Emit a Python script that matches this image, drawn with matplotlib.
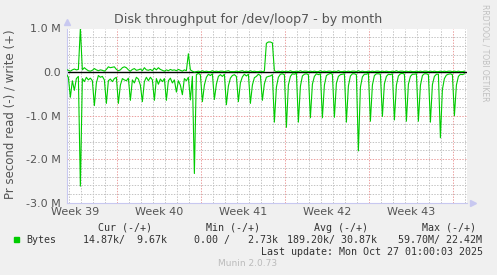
import matplotlib
matplotlib.use("Agg")
from matplotlib import pyplot as plt
import numpy as np

title = "Disk throughput for /dev/loop7 - by month"
y_label = "Pr second read (-) / write (+)"
week_labels = ["Week 39", "Week 40", "Week 41", "Week 42", "Week 43"]
y_tick_values = [1.0, 0.0, -1.0, -2.0, -3.0]
y_tick_labels = ["1.0 M", "0.0", "-1.0 M", "-2.0 M", "-3.0 M"]

# bytes per second in millions, six 4-hour samples per day; read is drawn negative
read_by_day = [
    [-0.05, -0.12, -0.58, -0.20, -0.42, -0.15],
    [-0.10, -2.62, -0.15, -0.22, -0.12, -0.18],
    [-0.14, -0.20, -0.77, -0.25, -0.08, -0.12],
    [-0.10, -0.18, -0.72, -0.20, -0.16, -0.22],
    [-0.15, -0.12, -0.72, -0.30, -0.15, -0.18],
    [-0.20, -0.14, -0.65, -0.18, -0.25, -0.12],
    [-0.16, -0.30, -0.68, -0.22, -0.12, -0.20],
    [-0.12, -0.18, -0.65, -0.15, -0.28, -0.16],
    [-0.22, -0.15, -0.65, -0.20, -0.14, -0.25],
    [-0.18, -0.46, -0.20, -0.30, -0.52, -0.15],
    [-0.20, -0.12, -0.64, -0.10, -2.33, -0.06],
    [-0.03, -0.06, -0.68, -0.30, -0.12, -0.05],
    [-0.08, -0.04, -0.63, -0.28, -0.10, -0.06],
    [-0.10, -0.05, -0.75, -0.32, -0.14, -0.08],
    [-0.06, -0.10, -0.68, -0.25, -0.11, -0.05],
    [-0.09, -0.05, -0.72, -0.30, -0.13, -0.10],
    [-0.05, -0.08, -0.65, -0.27, -0.12, -0.10],
    [-0.09, -0.06, -1.15, -0.35, -0.12, -0.05],
    [-0.04, -0.06, -1.27, -0.30, -0.10, -0.04],
    [-0.05, -0.03, -1.15, -0.33, -0.09, -0.05],
    [-0.04, -0.06, -1.05, -0.28, -0.10, -0.04],
    [-0.06, -0.04, -1.05, -0.30, -0.08, -0.05],
    [-0.03, -0.05, -1.04, -0.26, -0.10, -0.06],
    [-0.05, -0.04, -1.15, -0.32, -0.09, -0.04],
    [-0.04, -0.06, -1.81, -0.35, -0.11, -0.05],
    [-0.05, -0.03, -1.13, -0.30, -0.08, -0.04],
    [-0.04, -0.05, -1.02, -0.27, -0.10, -0.05],
    [-0.06, -0.04, -1.10, -0.30, -0.09, -0.04],
    [-0.03, -0.05, -1.13, -0.28, -0.10, -0.05],
    [-0.05, -0.04, -1.13, -0.31, -0.08, -0.04],
    [-0.04, -0.06, -1.15, -0.29, -0.10, -0.05],
    [-0.05, -1.51, -0.40, -0.15, -0.07, -0.05],
    [-0.04, -0.06, -1.00, -0.30, -0.10, -0.05],
    [-0.06, -0.04],
]
write_by_day = [
    [0.06, 0.04, 0.02, 0.05, 0.07, 0.05],
    [0.06, 1.00, 0.05, 0.10, 0.06, 0.03],
    [0.02, 0.04, 0.08, 0.05, 0.03, 0.05],
    [0.04, 0.02, 0.06, 0.12, 0.10, 0.11],
    [0.12, 0.06, 0.03, 0.05, 0.10, 0.12],
    [0.10, 0.05, 0.02, 0.06, 0.08, 0.04],
    [0.05, 0.07, 0.03, 0.10, 0.05, 0.04],
    [0.06, 0.03, 0.09, 0.05, 0.10, 0.06],
    [0.04, 0.02, 0.05, 0.03, 0.06, 0.04],
    [0.05, 0.03, 0.06, 0.04, 0.02, 0.05],
    [0.03, 0.42, 0.05, 0.02, 0.00, 0.01],
    [0.02, 0.01, 0.03, 0.01, 0.02, 0.01],
    [0.01, 0.03, 0.01, 0.02, 0.01, 0.02],
    [0.02, 0.01, 0.02, 0.03, 0.01, 0.01],
    [0.01, 0.02, 0.01, 0.02, 0.03, 0.01],
    [0.02, 0.01, 0.03, 0.01, 0.02, 0.01],
    [0.01, 0.02, 0.01, 0.02, 0.66, 0.69],
    [0.69, 0.67, 0.03, 0.01, 0.02, 0.01],
    [0.02, 0.01, 0.02, 0.01, 0.03, 0.01],
    [0.01, 0.02, 0.01, 0.03, 0.01, 0.02],
    [0.02, 0.01, 0.02, 0.01, 0.02, 0.01],
    [0.01, 0.03, 0.01, 0.02, 0.01, 0.02],
    [0.02, 0.01, 0.02, 0.01, 0.03, 0.01],
    [0.01, 0.02, 0.01, 0.02, 0.01, 0.02],
    [0.02, 0.01, 0.03, 0.01, 0.02, 0.01],
    [0.01, 0.02, 0.01, 0.02, 0.01, 0.02],
    [0.02, 0.01, 0.02, 0.01, 0.02, 0.01],
    [0.01, 0.02, 0.01, 0.03, 0.01, 0.02],
    [0.02, 0.01, 0.02, 0.01, 0.02, 0.01],
    [0.01, 0.02, 0.01, 0.02, 0.01, 0.02],
    [0.02, 0.01, 0.02, 0.01, 0.02, 0.01],
    [0.01, 0.02, 0.01, 0.02, 0.01, 0.02],
    [0.02, 0.01, 0.02, 0.01, 0.02, 0.01],
    [0.01, 0.02],
]

legend_name = "Bytes"
legend_headers = ["Cur (-/+)", "Min (-/+)", "Avg (-/+)", "Max (-/+)"]
legend_values = ["14.87k/  9.67k", "0.00 /   2.73k", "189.20k/ 30.87k", "59.70M/ 22.42M"]
last_update = "Last update: Mon Oct 27 01:00:03 2025"
footer = "Munin 2.0.73"
side_text = "RRDTOOL / TOBI OETIKER"

# time axis in days from the left edge of the graph
span_days = 33.33
first_sample = -0.053
samples_per_day = 6
first_day_line = 0.14
first_week_line = 4.14
first_week_label = 0.67

W, H = 497, 275
BG = "#F0F0F0"
GREEN = "#00CC00"
TEXT = "#555555"


def fx(px):
    return px / W


def fy(py):
    return 1 - py / H


read = np.concatenate([np.array(d) for d in read_by_day])
write = np.concatenate([np.array(d) for d in write_by_day])
t = first_sample + np.arange(len(read)) / samples_per_day

fig = plt.figure(figsize=(W / 100, H / 100), dpi=100, facecolor=BG)
ax = fig.add_axes([fx(67), fy(202.7), fx(400), 174.2 / H])
ax.set_facecolor("white")
ax.set_xlim(0, span_days)
ax.set_ylim(-3.0, 1.0)

# grid: gray dotted minor, red dotted major
grid_minor = dict(color="#C4C4C4", lw=0.72, ls=(0, (1.4, 1.4)), zorder=0)
grid_major = dict(color="#EBA0A0", lw=0.72, ls=(0, (1.4, 1.4)), zorder=0)
for d in np.arange(first_day_line, span_days, 1.0):
    if abs(((d - first_week_line) / 7) - round((d - first_week_line) / 7)) < 1e-6:
        ax.axvline(d, **grid_major)
    else:
        ax.axvline(d, **grid_minor)
for v in np.arange(-3.0, 1.01, 0.2):
    if abs(v - round(v)) < 1e-6:
        ax.axhline(v, **grid_major)
    else:
        ax.axhline(v, **grid_minor)

ax.axhline(0, color="black", lw=1.0, zorder=2)
ax.plot(t, read, color=GREEN, lw=0.8, zorder=3)
ax.plot(t, write, color=GREEN, lw=0.8, zorder=3)

for s in ["top", "right"]:
    ax.spines[s].set_visible(False)
for s in ["left", "bottom"]:
    ax.spines[s].set_color("#C8C8F0")
    ax.spines[s].set_linewidth(0.8)
ax.plot([0], [1.035], marker="^", color="#C8C8F0", ms=4, transform=ax.transAxes, clip_on=False)
ax.plot([1.015], [0], marker=">", color="#C8C8F0", ms=4, transform=ax.transAxes, clip_on=False)

ax.set_yticks(y_tick_values)
ax.set_yticklabels(y_tick_labels)
ax.set_xticks([first_week_label + 7 * i for i in range(len(week_labels))])
ax.set_xticklabels(week_labels)
ax.tick_params(axis="y", length=0, pad=4.5, labelsize=8, labelcolor=TEXT)
ax.tick_params(axis="x", length=0, pad=3, labelsize=8, labelcolor=TEXT)

fig.text(fx(248), fy(19.5), title, ha="center", va="center", fontsize=9.1, color=TEXT)
fig.text(fx(10), fy(114), y_label, ha="center", va="center", rotation=90, fontsize=8.5, color=TEXT)
fig.text(fx(485), fy(53), side_text, ha="center", va="center", rotation=270, fontsize=5.5, color="#C0C0C0")

mono = dict(family="DejaVu Sans Mono", fontsize=7.2, color="#333333", va="center")
for x, h in zip([125, 233.5, 341.5, 449.5], legend_headers):
    fig.text(fx(x), fy(228), h, ha="center", **mono)
fig.patches.append(plt.Rectangle((fx(14), fy(241.7)), fx(5), 5 / H, color=GREEN, transform=fig.transFigure))
fig.text(fx(26.7), fy(240), legend_name, ha="left", **mono)
for x, v in zip([83, 194, 287, 398], legend_values):
    fig.text(fx(x), fy(240), v, ha="left", **mono)
fig.text(fx(483), fy(252), last_update, ha="right", **mono)
fig.text(fx(248), fy(264), footer, ha="center", va="center", fontsize=6.5, color="#BBBBBB")

fig.savefig("out.png", dpi=100, facecolor=BG)
